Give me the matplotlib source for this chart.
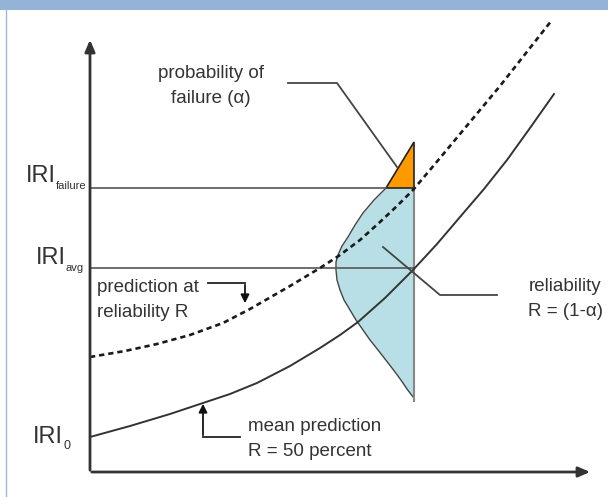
import matplotlib.pyplot as plt
from matplotlib.patches import Rectangle, Polygon

plt.rcParams['font.family'] = ['Liberation Sans', 'DejaVu Sans']

# schematic read in picture pixels (x right, y down)
mean_x = [90, 130, 170, 203, 230, 257, 290, 320, 340, 358, 385, 413, 437, 460, 484, 507, 530, 554]
mean_y = [437, 426, 414, 403, 394, 383, 366, 348, 335, 322, 298, 270, 244, 217, 189, 160, 128, 94]
rel_x = [90, 125, 157, 190, 223, 250, 290, 320, 340, 360, 380, 397, 413, 435, 460, 480, 500, 526, 552]
rel_y = [357, 351, 344, 335, 323, 309, 286, 268, 255, 240, 222, 206, 190, 164, 134, 110, 86, 53, 20]
dist_y = [188, 200, 213, 225, 237, 246, 255, 262, 270, 280, 290, 300, 310, 320, 330, 340, 350, 359, 368, 376, 383, 389, 393, 398]
dist_x = [386, 374, 363, 355, 348, 342, 338, 336, 336, 337, 340, 344, 350, 356, 363, 370, 378, 385, 392, 398, 403, 407, 410, 414]
tri_x = [386, 414, 414]
tri_y = [188, 188, 142]
x_rel = 414
iri_failure = 188
iri_avg = 268
iri_0 = 437
x_axis, y_axis = 472, 90

TXT = '#333333'
LINE = '#333333'

fig = plt.figure(figsize=(6.08, 4.97), dpi=100)
ax = fig.add_axes([0, 0, 1, 1])
ax.set_xlim(0, 608)
ax.set_ylim(497, 0)
ax.axis('off')

# frame of the original slide
ax.add_patch(Rectangle((0, 0), 608, 10, color='#95b3d7', lw=0))
ax.plot([6, 6], [10, 497], color='#9ab8dc', lw=1)

# axes with arrows
ax.annotate('', xy=(y_axis, 37), xytext=(y_axis, x_axis + 1),
            arrowprops=dict(arrowstyle='-|>,head_length=0.7,head_width=0.3', color=LINE, lw=2))
ax.annotate('', xy=(593, x_axis), xytext=(y_axis - 1, x_axis),
            arrowprops=dict(arrowstyle='-|>,head_length=0.7,head_width=0.3', color=LINE, lw=2))

# distribution and failure area
ax.fill_betweenx(dist_y, dist_x, x_rel, color='#b8dfe5', lw=0)
ax.plot(dist_x, dist_y, color='#444444', lw=1)
ax.add_patch(Polygon(list(zip(tri_x, tri_y)), closed=True, fc='#ff9900', ec='#222222', lw=1.2))
ax.plot([x_rel, x_rel], [tri_y[0], dist_y[-1] + 3], color='#888888', lw=1.5)

# level lines
ax.plot([y_axis, tri_x[0]], [iri_failure, iri_failure], color='#555555', lw=1.2)
ax.plot([y_axis, x_rel], [iri_avg, iri_avg], color='#555555', lw=1.2)

# curves
ax.plot(mean_x, mean_y, color=LINE, lw=1.4)
ax.plot(rel_x, rel_y, color='#1a1a1a', lw=1.9, ls=(0, (2.0, 1.5)))

# y labels: IRI with small subscript
ax.text(56, 176, 'IRI', ha='right', va='center', fontsize=17, color=TXT)
ax.text(56, 186, 'failure', ha='left', va='center', fontsize=8, color=TXT)
ax.text(66, 258, 'IRI', ha='right', va='center', fontsize=17, color=TXT)
ax.text(66, 268, 'avg', ha='left', va='center', fontsize=8, color=TXT)
ax.text(63, 437, 'IRI', ha='right', va='center', fontsize=17, color=TXT)
ax.text(63, 446, '0', ha='left', va='center', fontsize=9, color=TXT)

# annotations
fs = 13.5
ls = 1.6
ax.text(211, 86, 'probability of\nfailure (\u03b1)', ha='center', va='center',
        fontsize=fs, color=TXT, linespacing=ls)
ax.plot([288, 337, 397], [83, 83, 167], color='#444444', lw=1.3)

ax.text(97, 300, 'prediction at\nreliability R', ha='left', va='center',
        fontsize=fs, color=TXT, linespacing=ls)
ax.plot([208, 245], [283, 283], color='#222222', lw=1.3)
ax.annotate('', xy=(245, 306), xytext=(245, 282),
            arrowprops=dict(arrowstyle='-|>,head_length=0.5,head_width=0.25', color='#111111', lw=1.3))

ax.text(248, 439, 'mean prediction\nR = 50 percent', ha='left', va='center',
        fontsize=fs, color=TXT, linespacing=ls)
ax.plot([203, 240], [437, 437], color='#222222', lw=1.3)
ax.annotate('', xy=(203, 401), xytext=(203, 438),
            arrowprops=dict(arrowstyle='-|>,head_length=0.5,head_width=0.25', color='#111111', lw=1.3))

ax.text(565, 299, 'reliability\nR = (1-\u03b1)', ha='center', va='center',
        fontsize=fs, color=TXT, linespacing=ls)
ax.plot([383, 440, 497], [247, 295, 295], color='#444444', lw=1.3)

fig.savefig('out.png', dpi=100)
